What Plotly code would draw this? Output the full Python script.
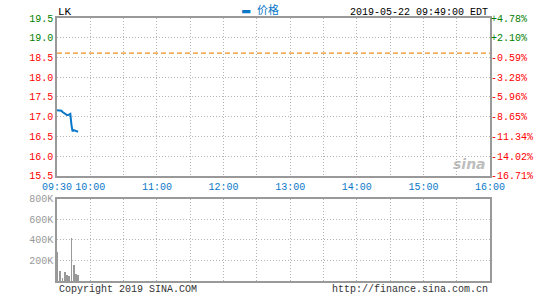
import plotly.graph_objects as go
from plotly.subplots import make_subplots

DAY = "2019-05-22 "
# price per minute from 09:30
price_times = ["09:30", "09:31", "09:32", "09:33", "09:34", "09:35", "09:36", "09:37", "09:38", "09:39",
               "09:40", "09:41", "09:42", "09:43", "09:44", "09:45", "09:46", "09:47", "09:48", "09:49"]
prices = [17.16, 17.16, 17.16, 17.16, 17.15, 17.12, 17.10, 17.06, 17.04, 17.04,
          17.04, 17.05, 17.07, 16.80, 16.63, 16.66, 16.65, 16.65, 16.63, 16.62]
prev_close = 18.61

vol_times = ["09:30", "09:33", "09:35", "09:37", "09:39", "09:41", "09:43", "09:45", "09:47", "09:49"]
volumes = [281000, 96000, 32000, 86000, 60000, 48000, 422000, 155000, 70000, 55000]

price_ticks = [15.5, 16.0, 16.5, 17.0, 17.5, 18.0, 18.5, 19.0, 19.5]
pct_labels = ["-16.71%", "-14.02%", "-11.34%", "-8.65%", "-5.96%", "-3.28%", "-0.59%", "+2.10%", "+4.78%"]
time_ticks = ["09:30", "10:00", "11:00", "12:00", "13:00", "14:00", "15:00", "16:00"]
vol_ticks = [200000, 400000, 600000, 800000]
vol_labels = ["200K", "400K", "600K", "800K"]

GREEN = "#008000"
RED = "#ff0000"
BLUE = "#0a78c8"
GRAY = "#999999"
GRID = "#b4b4b4"
FONT = "Liberation Mono, DejaVu Sans Mono, Noto Sans CJK SC"
GDASH = "1px,2px"

def col(v, ok):
    return f"<span style='color:{GREEN if ok else RED}'>{v}</span>"

price_text = [col(f"{p:.1f}", p > prev_close) for p in price_ticks]
pct_text = [col(t, t.startswith("+")) for t in pct_labels]

fig = make_subplots(rows=2, cols=1, shared_xaxes=False, row_heights=[0.6, 0.4],
                    vertical_spacing=0.0)

fig.add_trace(go.Scatter(x=[DAY + t for t in price_times], y=prices, mode="lines",
                         line=dict(color=BLUE, width=2), name="价格", showlegend=False),
              row=1, col=1)
fig.add_trace(go.Bar(x=[DAY + t for t in vol_times], y=volumes, marker=dict(color=GRAY, line=dict(width=0)),
                     width=45000, showlegend=False), row=2, col=1)
# previous close line on right axis
fig.add_trace(go.Scatter(x=[DAY + "09:30", DAY + "16:00"], y=[prev_close, prev_close], mode="lines",
                         line=dict(color="#f0901e", width=1.3, dash="5px,3px"), yaxis="y3", xaxis="x",
                         showlegend=False))

xrange = [DAY + "09:30", DAY + "16:00"]
common_x = dict(type="date", range=xrange, showgrid=True, gridcolor=GRID, griddash=GDASH, gridwidth=1,
                tickvals=[DAY + t for t in time_ticks], ticktext=time_ticks,
                minor=dict(dtick=30 * 60 * 1000, tick0=DAY + "09:30", showgrid=True, gridcolor=GRID,
                           griddash=GDASH, gridwidth=1),
                showline=True, linecolor=GRAY, linewidth=1.5, mirror=True, ticks="", zeroline=False)

fig.update_layout(
    width=545, height=300,
    margin=dict(l=57, r=53, t=18, b=15),
    paper_bgcolor="white", plot_bgcolor="white",
    font=dict(family=FONT, size=10, color="#000"),
    bargap=0,
    xaxis=dict(**common_x, domain=[0, 1], anchor="y", tickfont=dict(color=BLUE, size=10)),
    xaxis2=dict(**common_x, domain=[0, 1], anchor="y2", showticklabels=False),
    yaxis=dict(domain=[0.3996, 1.0], range=[15.5, 19.5], tickvals=price_ticks, ticktext=price_text,
               showgrid=True, gridcolor=GRID, griddash=GDASH, showline=True, linecolor=GRAY, linewidth=1.5,
               mirror=True, ticks="", zeroline=False, tickfont=dict(size=10)),
    yaxis2=dict(domain=[0, 0.312], range=[0, 800000], tickvals=vol_ticks, ticktext=vol_labels,
                showgrid=True, gridcolor=GRID, griddash=GDASH, showline=True, linecolor=GRAY, linewidth=1.5,
                mirror=True, ticks="", zeroline=False, tickfont=dict(color=GRAY, size=10)),
    yaxis3=dict(overlaying="y", side="right", anchor="x", range=[15.5, 19.5], tickvals=price_ticks,
                ticktext=pct_text, showgrid=False, zeroline=False, ticks="", tickfont=dict(size=10)),
)

fig.add_annotation(text="LK", xref="paper", yref="paper", x=0, y=1.0, xanchor="left", yanchor="bottom",
                   showarrow=False, font=dict(size=11, color="#000"), xshift=-1, yshift=-2)
fig.add_annotation(text="<span style='font-size:14px'>▬</span> 价格", xref="paper", yref="paper", x=0.47, y=1.0,
                   xanchor="center", yanchor="bottom", showarrow=False, font=dict(size=11, color=BLUE), yshift=-2)
fig.add_annotation(text="2019-05-22 09:49:00 EDT", xref="paper", yref="paper", x=1.0, y=1.0,
                   xanchor="right", yanchor="bottom", showarrow=False, font=dict(size=10, color="#000"), yshift=-2)
fig.add_annotation(text="Copyright 2019 SINA.COM", xref="paper", yref="paper", x=0, y=0,
                   xanchor="left", yanchor="top", showarrow=False, font=dict(size=10, color="#333"), yshift=-1)
fig.add_annotation(text="http://finance.sina.com.cn", xref="paper", yref="paper", x=1.0, y=0,
                   xanchor="right", yanchor="top", showarrow=False, font=dict(size=10, color="#333"), yshift=-1)
fig.add_annotation(text="<i><b>sina</b></i>", xref="paper", yref="paper", x=0.995, y=0.40,
                   xanchor="right", yanchor="bottom", showarrow=False,
                   font=dict(family="DejaVu Sans", size=14, color="rgba(160,160,160,0.7)"), yshift=2)

fig.write_html("out.html")
